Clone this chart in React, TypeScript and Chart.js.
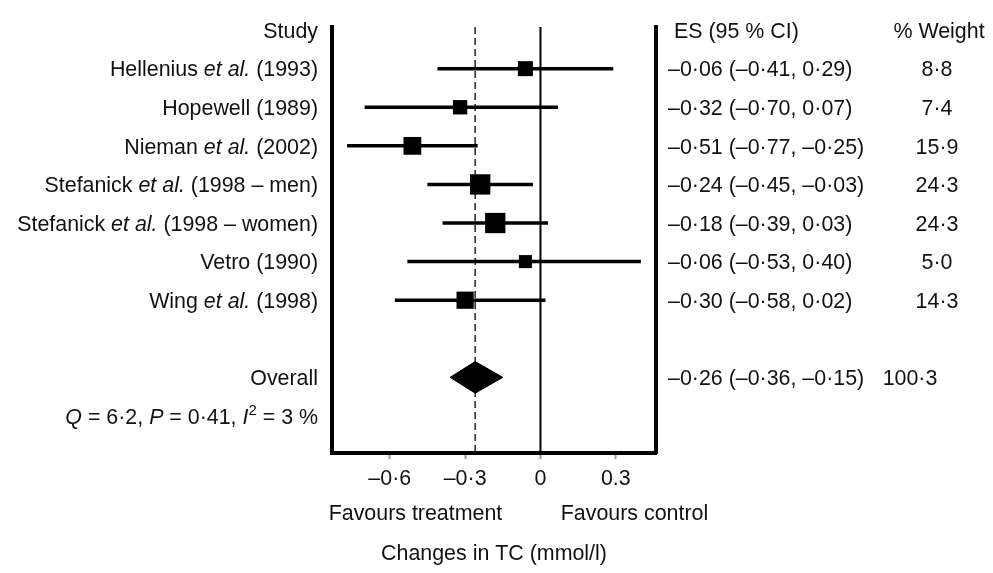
import React, { useEffect, useRef } from "react";
import { Chart, registerables } from "chart.js";

Chart.register(...registerables);

// ---------- Data ----------
const studies = [
  "Hellenius *et al.* (1993)",
  "Hopewell (1989)",
  "Nieman *et al.* (2002)",
  "Stefanick *et al.* (1998 – men)",
  "Stefanick *et al.* (1998 – women)",
  "Vetro (1990)",
  "Wing *et al.* (1998)",
];
const effectSizes = [-0.06, -0.32, -0.51, -0.24, -0.18, -0.06, -0.3];
const ciLow = [-0.41, -0.7, -0.77, -0.45, -0.39, -0.53, -0.58];
const ciHigh = [0.29, 0.07, -0.25, -0.03, 0.03, 0.4, 0.02];
const weights = [8.8, 7.4, 15.9, 24.3, 24.3, 5.0, 14.3];

const overallLabel = "Overall";
const overallES = -0.26;
const overallLow = -0.36;
const overallHigh = -0.15;
const overallWeight = 100.3;
const heterogeneityText = "*Q* = 6·2, *P* = 0·41, *I*^2^ = 3 %";

const xTickValues = [-0.6, -0.3, 0, 0.3];
const xTickLabels = ["–0·6", "–0·3", "0", "0.3"];

const headerStudy = "Study";
const headerES = "ES (95 % CI)";
const headerWeight = "% Weight";
const favoursLeft = "Favours treatment";
const favoursRight = "Favours control";
const axisTitle = "Changes in TC (mmol/l)";

// ---------- Layout constants ----------
const FAMILY = '"Liberation Sans", Arial, Helvetica, sans-serif';
const FS = 21.4;
const X_MIN = -0.83;
const X_MAX = 0.46;
const Y_MIN = -0.08;
const Y_MAX = 10.96;
const OVERALL_ROW = studies.length + 2;
const HET_ROW = OVERALL_ROW + 1;

const fmt2 = (v: number) =>
  (v < 0 ? "–" : "") + Math.abs(v).toFixed(2).replace(".", "·");
const fmt1 = (v: number) => v.toFixed(1).replace(".", "·");
const esText = (e: number, l: number, h: number) =>
  `${fmt2(e)} (${fmt2(l)}, ${fmt2(h)})`;

type Seg = { t: string; italic: boolean; sup: boolean };
function parseRich(s: string): Seg[] {
  const segs: Seg[] = [];
  let italic = false;
  let sup = false;
  let buf = "";
  for (const ch of s) {
    if (ch === "*" || ch === "^") {
      if (buf) segs.push({ t: buf, italic, sup });
      buf = "";
      if (ch === "*") italic = !italic;
      else sup = !sup;
    } else buf += ch;
  }
  if (buf) segs.push({ t: buf, italic, sup });
  return segs;
}

function drawRich(
  ctx: CanvasRenderingContext2D,
  s: string,
  x: number,
  yCenter: number,
  align: "left" | "right" | "center",
  size = FS
) {
  const segs = parseRich(s);
  const fontFor = (g: Seg) =>
    `${g.italic ? "italic " : ""}${g.sup ? Math.round(size * 0.7) : size}px ${FAMILY}`;
  let total = 0;
  for (const g of segs) {
    ctx.font = fontFor(g);
    total += ctx.measureText(g.t).width;
  }
  let cx = align === "right" ? x - total : align === "center" ? x - total / 2 : x;
  const base = yCenter + size * 0.36;
  ctx.textAlign = "left";
  ctx.textBaseline = "alphabetic";
  for (const g of segs) {
    ctx.font = fontFor(g);
    ctx.fillText(g.t, cx, g.sup ? base - size * 0.4 : base);
    cx += ctx.measureText(g.t).width;
  }
}

const textPlugin = {
  id: "forestText",
  afterDraw(chart: any) {
    const { ctx, chartArea, scales } = chart;
    const xs = scales.x;
    const ys = scales.y;
    ctx.save();
    ctx.fillStyle = "#111";
    const labelX = chartArea.left - 14;
    const esX = chartArea.right + 12;
    const wX = chartArea.right + 281;

    // headers
    const r0 = ys.getPixelForValue(0);
    drawRich(ctx, headerStudy, labelX, r0, "right");
    drawRich(ctx, headerES, esX + 6, r0, "left");
    drawRich(ctx, headerWeight, wX + 2, r0, "center");

    studies.forEach((s, i) => {
      const py = ys.getPixelForValue(i + 1);
      drawRich(ctx, s, labelX, py, "right");
      drawRich(ctx, esText(effectSizes[i], ciLow[i], ciHigh[i]), esX, py, "left");
      drawRich(ctx, fmt1(weights[i]), wX, py, "center");
    });

    const po = ys.getPixelForValue(OVERALL_ROW);
    drawRich(ctx, overallLabel, labelX, po, "right");
    drawRich(ctx, esText(overallES, overallLow, overallHigh), esX, po, "left");
    drawRich(ctx, fmt1(overallWeight), wX - 27, po, "center");

    drawRich(ctx, heterogeneityText, labelX, ys.getPixelForValue(HET_ROW), "right");

    const zeroPx = xs.getPixelForValue(0);
    drawRich(ctx, favoursLeft, zeroPx - 125, chartArea.bottom + 59, "center");
    drawRich(ctx, favoursRight, zeroPx + 94, chartArea.bottom + 59, "center");
    drawRich(
      ctx,
      axisTitle,
      (chartArea.left + chartArea.right) / 2,
      chartArea.bottom + 99,
      "center"
    );
    ctx.restore();
  },
};

export default function App() {
  const ref = useRef<HTMLCanvasElement | null>(null);

  useEffect(() => {
    if (!ref.current) return;

    const ciDatasets = studies.map((_, i) => ({
      type: "line" as const,
      data: [
        { x: ciLow[i], y: i + 1 },
        { x: ciHigh[i], y: i + 1 },
      ],
      borderColor: "#000",
      borderWidth: 3.5,
      pointRadius: 0,
      fill: false,
      order: 2,
    }));

    const chart = new Chart(ref.current, {
      type: "scatter",
      data: {
        datasets: [
          {
            type: "scatter" as const,
            data: effectSizes.map((v, i) => ({ x: v, y: i + 1 })),
            pointStyle: "rect",
            pointRadius: weights.map((w) => (7 + 2.7 * Math.sqrt(w)) / Math.SQRT2),
            backgroundColor: "#000",
            borderColor: "#000",
            borderWidth: 0,
            order: 0,
          },
          {
            type: "line" as const,
            data: [
              { x: overallLow, y: OVERALL_ROW },
              { x: overallES, y: OVERALL_ROW - 0.41 },
              { x: overallHigh, y: OVERALL_ROW },
              { x: overallES, y: OVERALL_ROW + 0.41 },
              { x: overallLow, y: OVERALL_ROW },
            ],
            borderColor: "#000",
            backgroundColor: "#000",
            borderWidth: 1,
            pointRadius: 0,
            fill: "shape",
            tension: 0,
            order: 1,
          },
          ...ciDatasets,
          {
            type: "line" as const,
            data: [
              { x: 0, y: Y_MIN },
              { x: 0, y: Y_MAX },
            ],
            borderColor: "#000",
            borderWidth: 2,
            pointRadius: 0,
            fill: false,
            order: 3,
          },
          {
            type: "line" as const,
            data: [
              { x: overallES, y: Y_MIN },
              { x: overallES, y: Y_MAX },
            ],
            borderColor: "#222",
            borderWidth: 1.5,
            borderDash: [7, 4],
            pointRadius: 0,
            fill: false,
            order: 4,
          },
        ] as any,
      },
      options: {
        responsive: false,
        animation: false,
        events: [],
        layout: { padding: { left: 332, right: 337, top: 27, bottom: 80 } },
        plugins: {
          legend: { display: false },
          tooltip: { enabled: false },
        },
        scales: {
          x: {
            type: "linear",
            position: "bottom",
            min: X_MIN,
            max: X_MAX,
            afterBuildTicks: (scale: any) => {
              scale.ticks = xTickValues.map((v) => ({ value: v }));
            },
            afterFit: (scale: any) => {
              scale.height = 40;
            },
            grid: {
              display: true,
              drawOnChartArea: false,
              drawTicks: true,
              tickLength: 6,
              tickWidth: 2,
              tickColor: "#999",
              color: "#999",
            },
            border: { display: true, width: 4, color: "#000" },
            ticks: {
              color: "#111",
              font: { family: FAMILY, size: FS },
              padding: 7,
              autoSkip: false,
              maxRotation: 0,
              callback: (value: any) => {
                const idx = xTickValues.findIndex((t) => Math.abs(t - Number(value)) < 1e-9);
                return idx >= 0 ? xTickLabels[idx] : "";
              },
            },
          },
          y: {
            type: "linear",
            position: "left",
            min: Y_MIN,
            max: Y_MAX,
            reverse: true,
            afterFit: (scale: any) => {
              scale.width = 0;
            },
            grid: { display: false, drawTicks: false },
            border: { display: true, width: 4, color: "#000" },
            ticks: { display: false },
          },
          y2: {
            type: "linear",
            position: "right",
            min: Y_MIN,
            max: Y_MAX,
            reverse: true,
            afterFit: (scale: any) => {
              scale.width = 0;
            },
            grid: { display: false, drawTicks: false },
            border: { display: true, width: 4, color: "#000" },
            ticks: { display: false },
          },
        },
      } as any,
      plugins: [textPlugin],
    });

    return () => chart.destroy();
  }, []);

  return (
    <div
      style={{
        position: "absolute",
        left: 0,
        top: 0,
        width: 993,
        height: 573,
        background: "#fff",
      }}
    >
      <canvas ref={ref} width={993} height={573} />
    </div>
  );
}
